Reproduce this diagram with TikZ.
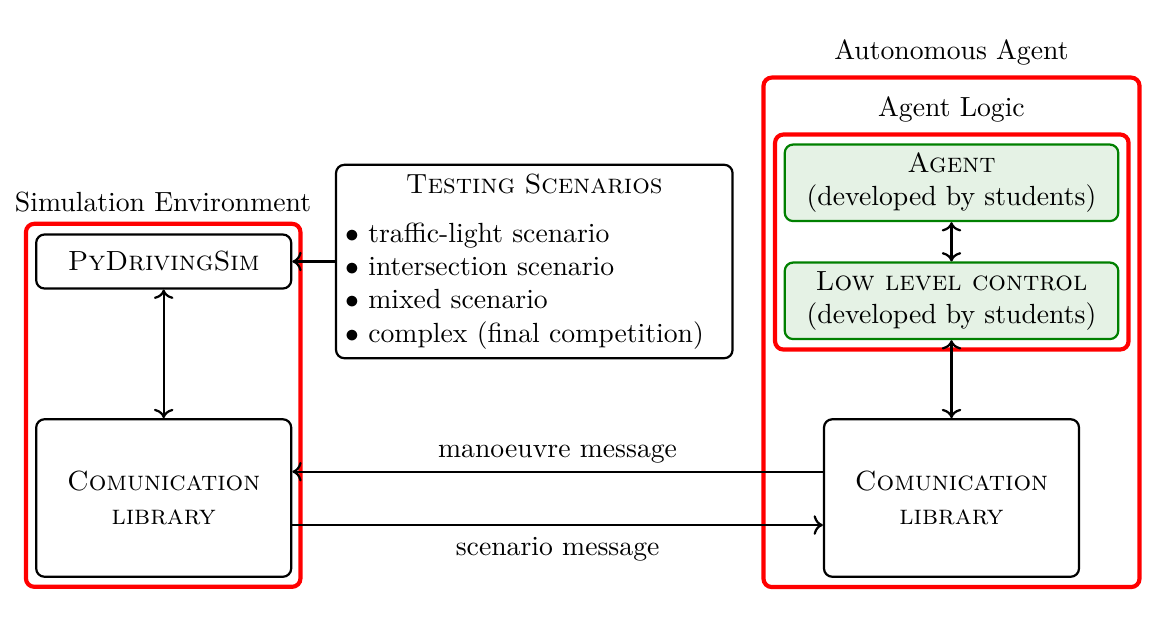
\documentclass[tikz,border=0pt]{standalone}
\usetikzlibrary{arrows.meta}
\def\PX{0.361pt}
\begin{document}
\begin{tikzpicture}[x=0.361pt,y=-0.361pt,
  blk/.style={draw=black, thick, rounded corners=3pt, align=center, inner sep=2pt},
  grn/.style={draw=green!50!black, fill=green!50!black!10, thick, rounded corners=3pt, align=center, inner sep=2pt},
  grp/.style={draw=red, line width=1.5pt, rounded corners=3pt, inner sep=0pt},
  lbl/.style={anchor=base, inner sep=0pt},
  conn/.style={thick}]
\useasboundingbox (0,0) rectangle (1157,625);
% group frames
\node[grp, minimum width=274.5*\PX, minimum height=363*\PX] (simenv) at (163.2,405.3) {};
\node[grp, minimum width=376*\PX, minimum height=509.5*\PX] (autag) at (951.5,332.3) {};
\node[grp, minimum width=353.5*\PX, minimum height=215*\PX] (aglog) at (951.8,242) {};
% group titles
\node[lbl] (tsim) at (163,211) {Simulation Environment};
\node[lbl] (taut) at (951.5,59.3) {Autonomous Agent};
\node[lbl] (tlog) at (951.5,116) {Agent Logic};
% boxes
\node[blk, minimum width=255*\PX, minimum height=54*\PX] (pyd) at (163.7,261.5) {\textsc{PyDrivingSim}};
\node[blk, minimum width=255*\PX, minimum height=157.5*\PX] (comL) at (163.7,498) {\textsc{Comunication}\\\textsc{library}};
\node[blk, minimum width=255*\PX, minimum height=157.5*\PX] (comR) at (951.5,498) {\textsc{Comunication}\\\textsc{library}};
\node[grn, minimum width=333.5*\PX, minimum height=76.5*\PX] (agent) at (951.5,182.8) {\textsc{Agent}\\(developed by students)};
\node[grn, minimum width=333.5*\PX, minimum height=76.5*\PX] (low) at (951.5,300.8) {\textsc{Low level control}\\(developed by students)};
\node[draw=black, thick, rounded corners=3pt, minimum width=396.5*\PX, minimum height=191*\PX, text width=136.5pt, inner sep=3.33pt] (test) at (534.3,261.5)
 {\centering\textsc{Testing Scenarios}\par\vspace{5.6pt}\raggedright
  $\bullet$ traffic-light scenario\par
  $\bullet$ intersection scenario\par
  $\bullet$ mixed scenario\par
  $\bullet$ complex (final competition)\par};
% connectors
\draw[conn,->] (test.west) -- (pyd.east);
\draw[conn,<->] (pyd.south) -- (comL.north);
\draw[conn,<->] (agent.south) -- (low.north);
\draw[conn,<->] (low.south) -- (comR.north);
\draw[conn,->] ([yshift=9.5pt]comR.west) -- ([yshift=9.5pt]comL.east)
  node[midway, above, inner sep=2.8pt] (lm) {manoeuvre message};
\draw[conn,->] ([yshift=-9.75pt]comL.east) -- ([yshift=-9.75pt]comR.west)
  node[midway, below, inner sep=4pt] (ls) {scenario message};
\end{tikzpicture}
\end{document}
